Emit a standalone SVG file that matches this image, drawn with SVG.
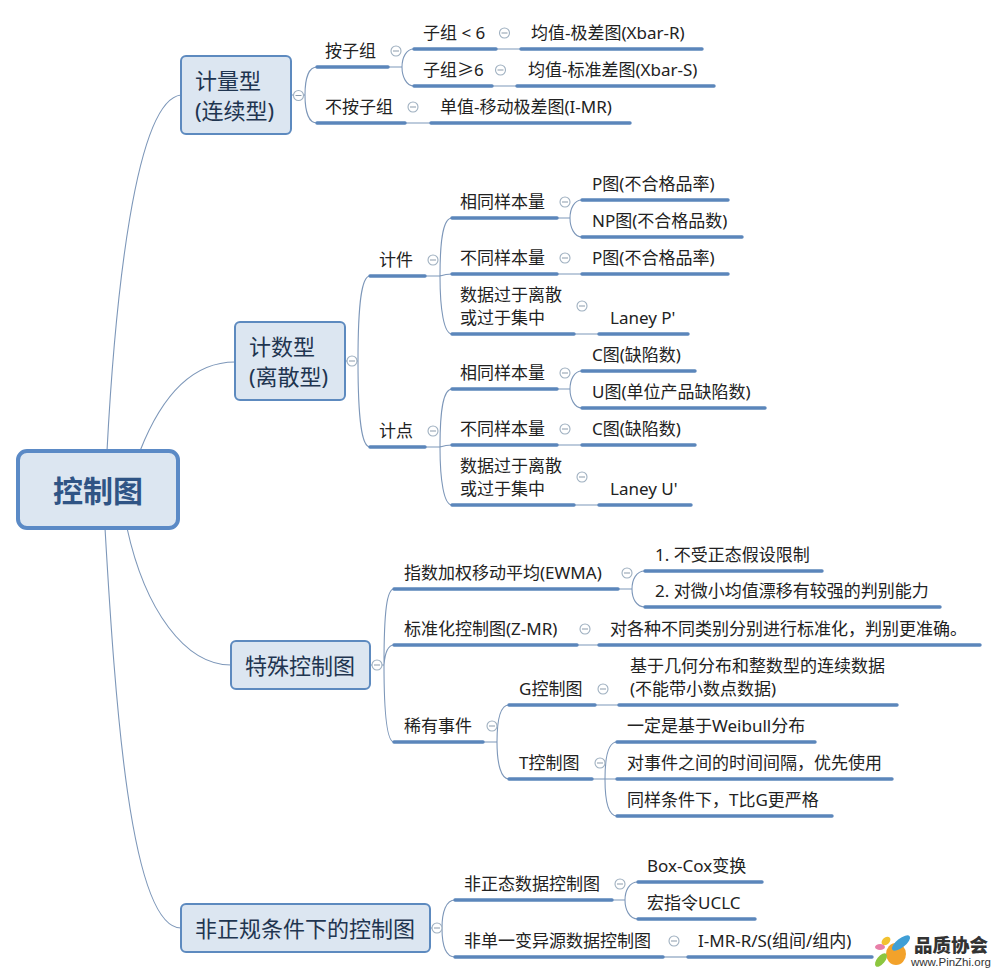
<svg xmlns="http://www.w3.org/2000/svg" width="998" height="973" viewBox="0 0 998 973">
<style>
text{font-family:"Noto Sans","Noto Sans CJK SC",sans-serif;font-size:17px;fill:#222}
.m{font-size:22px;fill:#1f3550}
.r{font-size:30px;font-weight:700;fill:#2f5485}
.b{fill:#dce6f1;stroke:#5d8abf;stroke-width:2}
.u{stroke:#5b86bb;stroke-width:3.4;stroke-linecap:round;fill:none}
.t{stroke:#7d97b9;stroke-width:1.1;fill:none}
</style>
<defs><g id="c"><circle r="5" fill="#fff" stroke="#9fb0c0" stroke-width="1.1"/><path d="M-3 0H3" stroke="#8b9bab" stroke-width="1"/></g></defs>
<rect width="998" height="973" fill="#fff"/>
<g id="connectors">
<path class="t" d="M107 451C115 300 135 100 181 95M140 451C160 400 190 362 235 362M127 528C145 610 185 665 231 665M105 528C115 700 130 928 181 928"/>
<path class="t" d="M291 95H305M317 67C309 67 305 78 305 95C305 112 309 123 317 123"/>
<path class="t" d="M388 67H402M414 49C406 49 402 58 402 67C402 76 406 86 414 86"/>
<path class="t" d="M496 49H520M492 86H516M405 123H430"/>
<path class="t" d="M345 361H358M370 276C362 276 358 300 358 361C358 422 362 447 370 447"/>
<path class="t" d="M425 276H440M452 218C444 218 440 235 440 276C440 310 444 334 452 334M440 276C443 275 446 274 452 274"/>
<path class="t" d="M425 447H440M452 389C444 389 440 406 440 447C440 481 444 505 452 505M440 447C443 446 446 445 452 445"/>
<path class="t" d="M557 218H570M582 200C574 200 570 209 570 218C570 227 574 237 582 237"/>
<path class="t" d="M557 389H570M582 371C574 371 570 380 570 389C570 398 574 408 582 408"/>
<path class="t" d="M557 274H582M574 334H598M557 445H582M574 505H598"/>
<path class="t" d="M370 665H384M394 589C387 589 384 610 384 665C384 715 387 742 394 742M384 665C385 652 388 645 394 645"/>
<path class="t" d="M618 589H632M645 571C636 571 632 580 632 589C632 598 636 607 645 607"/>
<path class="t" d="M577 645H598M595 705H618"/>
<path class="t" d="M483 742H497M509 705C501 705 497 718 497 742C497 764 501 779 509 779"/>
<path class="t" d="M592 779H605M617 742C609 742 605 755 605 779C605 803 609 816 617 816M605 779H617"/>
<path class="t" d="M430 928H442M455 900C446 900 442 912 442 928C442 945 446 957 455 957"/>
<path class="t" d="M612 900H625M638 882C629 882 625 891 625 900C625 909 629 919 638 919"/>
<path class="t" d="M663 957H687"/>
</g>
<g id="root"><rect x="18" y="451" width="160" height="77" rx="9" fill="#dce6f1" stroke="#5b8ac6" stroke-width="4"/><text class="r" x="98" y="502" text-anchor="middle">控制图</text></g>
<g id="n1"><rect class="b" x="181" y="56" width="110" height="78" rx="5"/><text class="m" x="195" y="89">计量型</text><text class="m" x="195" y="119">(连续型)</text><use href="#c" x="298.5" y="95.5"/></g>
<g id="n2"><rect class="b" x="235" y="322" width="110" height="78" rx="5"/><text class="m" x="249" y="355">计数型</text><text class="m" x="249" y="385">(离散型)</text><use href="#c" x="352" y="361"/></g>
<g id="n3"><rect class="b" x="231" y="641" width="139" height="48" rx="5"/><text class="m" x="245" y="674">特殊控制图</text><use href="#c" x="377" y="665"/></g>
<g id="n4"><rect class="b" x="181" y="904" width="249" height="48" rx="5"/><text class="m" x="195" y="937">非正规条件下的控制图</text><use href="#c" x="437" y="928"/></g>

<g id="a1"><path class="u" d="M317 67H388"/><text x="325" y="57">按子组</text><use href="#c" x="396" y="51"/></g>
<g id="a2"><path class="u" d="M317 123H405"/><text x="325" y="113">不按子组</text><use href="#c" x="413" y="107"/></g>
<g id="a3"><path class="u" d="M414 49H496"/><text x="423" y="39">子组 &lt; 6</text><use href="#c" x="504.5" y="33"/></g>
<g id="a4"><path class="u" d="M414 86H492"/><text x="423" y="76">子组≥6</text><use href="#c" x="500.5" y="70"/></g>
<g id="a5"><path class="u" d="M521 49H702"/><text x="531" y="39">均值-极差图(Xbar-R)</text></g>
<g id="a6"><path class="u" d="M517 86H714"/><text x="528" y="76">均值-标准差图(Xbar-S)</text></g>
<g id="a7"><path class="u" d="M431 123H630"/><text x="440" y="113">单值-移动极差图(I-MR)</text></g>

<g id="b1"><path class="u" d="M370 276H425"/><text x="379" y="266">计件</text><use href="#c" x="433" y="260"/></g>
<g id="b2"><path class="u" d="M452 218H557"/><text x="460" y="208">相同样本量</text><use href="#c" x="565" y="202"/></g>
<g id="b3"><path class="u" d="M582 200H728"/><text x="592" y="190">P图(不合格品率)</text></g>
<g id="b4"><path class="u" d="M582 237H742"/><text x="592" y="227">NP图(不合格品数)</text></g>
<g id="b5"><path class="u" d="M452 274H557"/><text x="460" y="264">不同样本量</text><use href="#c" x="565" y="258"/></g>
<g id="b6"><path class="u" d="M582 274H728"/><text x="592" y="264">P图(不合格品率)</text></g>
<g id="b7"><path class="u" d="M452 334H574"/><text x="460" y="301">数据过于离散</text><text x="460" y="324">或过于集中</text><use href="#c" x="582" y="306"/></g>
<g id="b8"><path class="u" d="M599 334H688"/><text x="610" y="324">Laney P'</text></g>

<g id="c1"><path class="u" d="M370 447H425"/><text x="379" y="437">计点</text><use href="#c" x="433" y="431"/></g>
<g id="c2"><path class="u" d="M452 389H557"/><text x="460" y="379">相同样本量</text><use href="#c" x="565" y="373"/></g>
<g id="c3"><path class="u" d="M582 371H695"/><text x="592" y="361">C图(缺陷数)</text></g>
<g id="c4"><path class="u" d="M582 408H765"/><text x="592" y="398">U图(单位产品缺陷数)</text></g>
<g id="c5"><path class="u" d="M452 445H557"/><text x="460" y="435">不同样本量</text><use href="#c" x="565" y="429"/></g>
<g id="c6"><path class="u" d="M582 445H695"/><text x="592" y="435">C图(缺陷数)</text></g>
<g id="c7"><path class="u" d="M452 505H574"/><text x="460" y="472">数据过于离散</text><text x="460" y="495">或过于集中</text><use href="#c" x="582" y="477"/></g>
<g id="c8"><path class="u" d="M599 505H691"/><text x="610" y="495">Laney U'</text></g>

<g id="d1"><path class="u" d="M394 589H618"/><text x="404" y="579">指数加权移动平均(EWMA)</text><use href="#c" x="627" y="573"/></g>
<g id="d2"><path class="u" d="M645 571H822"/><text x="655" y="561">1. 不受正态假设限制</text></g>
<g id="d3"><path class="u" d="M645 607H940"/><text x="655" y="597">2. 对微小均值漂移有较强的判别能力</text></g>
<g id="d4"><path class="u" d="M394 645H577"/><text x="404" y="635">标准化控制图(Z-MR)</text><use href="#c" x="585" y="629"/></g>
<g id="d5"><path class="u" d="M599 645H980"/><text x="610" y="635">对各种不同类别分别进行标准化，判别更准确。</text></g>
<g id="d6"><path class="u" d="M394 742H483"/><text x="404" y="732">稀有事件</text><use href="#c" x="492" y="726"/></g>
<g id="d7"><path class="u" d="M509 705H595"/><text x="519" y="695">G控制图</text><use href="#c" x="603" y="689"/></g>
<g id="d8"><path class="u" d="M619 705H897"/><text x="630" y="672">基于几何分布和整数型的连续数据</text><text x="630" y="695">(不能带小数点数据)</text></g>
<g id="d9"><path class="u" d="M509 779H592"/><text x="519" y="769">T控制图</text><use href="#c" x="600" y="763"/></g>
<g id="d10"><path class="u" d="M617 742H815"/><text x="627" y="732">一定是基于Weibull分布</text></g>
<g id="d11"><path class="u" d="M617 779H892"/><text x="627" y="769">对事件之间的时间间隔，优先使用</text></g>
<g id="d12"><path class="u" d="M617 816H832"/><text x="627" y="806">同样条件下，T比G更严格</text></g>

<g id="e1"><path class="u" d="M455 900H612"/><text x="464" y="890">非正态数据控制图</text><use href="#c" x="620" y="884"/></g>
<g id="e2"><path class="u" d="M638 882H762"/><text x="647" y="872">Box-Cox变换</text></g>
<g id="e3"><path class="u" d="M638 919H755"/><text x="647" y="909">宏指令UCLC</text></g>
<g id="e4"><path class="u" d="M455 957H663"/><text x="464" y="947">非单一变异源数据控制图</text><use href="#c" x="674" y="941"/></g>
<g id="e5"><path class="u" d="M688 957H872"/><text x="698" y="947">I-MR-R/S(组间/组内)</text></g>

<g id="logo">
<ellipse cx="896" cy="954" rx="10" ry="11" fill="#f3a22a"/>
<ellipse cx="901" cy="943" rx="11" ry="4.5" fill="#3f9fd6" transform="rotate(-38 901 943)"/>
<ellipse cx="886" cy="941" rx="5" ry="3.5" fill="#f2c230" transform="rotate(-40 886 941)"/>
<ellipse cx="880" cy="947" rx="5" ry="3" fill="#e87fa8"/>
<ellipse cx="881" cy="960" rx="8" ry="4" fill="#8cc63f" transform="rotate(-50 881 960)"/>
<text x="914" y="952" style="font-family:'Noto Sans CJK SC',sans-serif;font-size:18.5px;font-weight:900;fill:#333">品质协会</text>
<text x="911" y="966" style="font-family:'Liberation Sans',sans-serif;font-size:11.5px;fill:#333">www.PinZhi.org</text>
</g>
</svg>
